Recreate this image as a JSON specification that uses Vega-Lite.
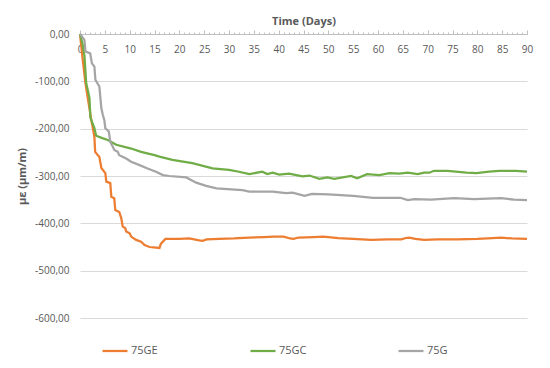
{
  "$schema": "https://vega.github.io/schema/vega-lite/v6.json",
  "width": 447,
  "height": 284,
  "autosize": {"type": "none"},
  "padding": {"left": 80, "top": 34, "right": 23, "bottom": 50},
  "background": "white",
  "config": {
    "view": {"stroke": null},
    "font": "Open Sans",
    "axis": {"labelFont": "Open Sans", "titleFont": "Open Sans", "labelColor": "#595959", "titleColor": "#595959"}
  },
  "data": {
    "values": [
      {"series": "75GE", "day": 0, "v": 0},
      {"series": "75GE", "day": 0.5, "v": -50},
      {"series": "75GE", "day": 1.1, "v": -104},
      {"series": "75GE", "day": 2.2, "v": -177},
      {"series": "75GE", "day": 2.6, "v": -200},
      {"series": "75GE", "day": 2.9, "v": -218},
      {"series": "75GE", "day": 3.05, "v": -249},
      {"series": "75GE", "day": 3.9, "v": -260},
      {"series": "75GE", "day": 4.3, "v": -283},
      {"series": "75GE", "day": 5.1, "v": -294},
      {"series": "75GE", "day": 5.3, "v": -312},
      {"series": "75GE", "day": 6.1, "v": -315},
      {"series": "75GE", "day": 6.3, "v": -344},
      {"series": "75GE", "day": 6.9, "v": -347},
      {"series": "75GE", "day": 7.1, "v": -372},
      {"series": "75GE", "day": 7.9, "v": -376},
      {"series": "75GE", "day": 8.3, "v": -389},
      {"series": "75GE", "day": 8.6, "v": -407},
      {"series": "75GE", "day": 9.1, "v": -410},
      {"series": "75GE", "day": 9.3, "v": -417},
      {"series": "75GE", "day": 10, "v": -421},
      {"series": "75GE", "day": 10.3, "v": -428},
      {"series": "75GE", "day": 11.3, "v": -435},
      {"series": "75GE", "day": 12.3, "v": -439},
      {"series": "75GE", "day": 13, "v": -446},
      {"series": "75GE", "day": 14, "v": -450},
      {"series": "75GE", "day": 16, "v": -452},
      {"series": "75GE", "day": 16.3, "v": -443},
      {"series": "75GE", "day": 17.2, "v": -433},
      {"series": "75GE", "day": 20, "v": -433},
      {"series": "75GE", "day": 22, "v": -432},
      {"series": "75GE", "day": 24, "v": -436},
      {"series": "75GE", "day": 24.7, "v": -437},
      {"series": "75GE", "day": 25.5, "v": -434},
      {"series": "75GE", "day": 28, "v": -433},
      {"series": "75GE", "day": 31, "v": -432},
      {"series": "75GE", "day": 34, "v": -430},
      {"series": "75GE", "day": 37, "v": -429},
      {"series": "75GE", "day": 39, "v": -428},
      {"series": "75GE", "day": 41, "v": -428},
      {"series": "75GE", "day": 42.3, "v": -432},
      {"series": "75GE", "day": 43, "v": -433},
      {"series": "75GE", "day": 44, "v": -430},
      {"series": "75GE", "day": 47, "v": -429},
      {"series": "75GE", "day": 49, "v": -428},
      {"series": "75GE", "day": 52, "v": -431},
      {"series": "75GE", "day": 55, "v": -433},
      {"series": "75GE", "day": 58.6, "v": -435},
      {"series": "75GE", "day": 62, "v": -434},
      {"series": "75GE", "day": 64.7, "v": -434},
      {"series": "75GE", "day": 65.6, "v": -431},
      {"series": "75GE", "day": 66.3, "v": -430},
      {"series": "75GE", "day": 67.5, "v": -433},
      {"series": "75GE", "day": 69.3, "v": -435},
      {"series": "75GE", "day": 72, "v": -434},
      {"series": "75GE", "day": 76, "v": -434},
      {"series": "75GE", "day": 80, "v": -433},
      {"series": "75GE", "day": 83, "v": -431},
      {"series": "75GE", "day": 84.8, "v": -430},
      {"series": "75GE", "day": 87, "v": -432},
      {"series": "75GE", "day": 90, "v": -433},

      {"series": "75GC", "day": 0, "v": 0},
      {"series": "75GC", "day": 0.5, "v": -20},
      {"series": "75GC", "day": 0.9, "v": -46},
      {"series": "75GC", "day": 1.25, "v": -104},
      {"series": "75GC", "day": 1.6, "v": -120},
      {"series": "75GC", "day": 1.9, "v": -135},
      {"series": "75GC", "day": 2.1, "v": -177},
      {"series": "75GC", "day": 2.9, "v": -199},
      {"series": "75GC", "day": 3.25, "v": -215},
      {"series": "75GC", "day": 4.5, "v": -220},
      {"series": "75GC", "day": 5.6, "v": -224},
      {"series": "75GC", "day": 7.3, "v": -234},
      {"series": "75GC", "day": 10.3, "v": -242},
      {"series": "75GC", "day": 12.3, "v": -249},
      {"series": "75GC", "day": 15, "v": -256},
      {"series": "75GC", "day": 16, "v": -259},
      {"series": "75GC", "day": 18.6, "v": -266},
      {"series": "75GC", "day": 22.6, "v": -273},
      {"series": "75GC", "day": 26.7, "v": -284},
      {"series": "75GC", "day": 30, "v": -287},
      {"series": "75GC", "day": 32, "v": -291},
      {"series": "75GC", "day": 34.1, "v": -296},
      {"series": "75GC", "day": 36.7, "v": -291},
      {"series": "75GC", "day": 37.7, "v": -296},
      {"series": "75GC", "day": 38.8, "v": -293},
      {"series": "75GC", "day": 40.1, "v": -297},
      {"series": "75GC", "day": 42.1, "v": -295},
      {"series": "75GC", "day": 44.8, "v": -301},
      {"series": "75GC", "day": 46.2, "v": -299},
      {"series": "75GC", "day": 48.2, "v": -306},
      {"series": "75GC", "day": 49.8, "v": -303},
      {"series": "75GC", "day": 51.2, "v": -306},
      {"series": "75GC", "day": 54.6, "v": -300},
      {"series": "75GC", "day": 55.8, "v": -305},
      {"series": "75GC", "day": 57.8, "v": -296},
      {"series": "75GC", "day": 60.3, "v": -298},
      {"series": "75GC", "day": 62.3, "v": -294},
      {"series": "75GC", "day": 64.3, "v": -295},
      {"series": "75GC", "day": 66, "v": -293},
      {"series": "75GC", "day": 68, "v": -296},
      {"series": "75GC", "day": 69.3, "v": -293},
      {"series": "75GC", "day": 70.3, "v": -293},
      {"series": "75GC", "day": 71.3, "v": -289},
      {"series": "75GC", "day": 74, "v": -289},
      {"series": "75GC", "day": 77.8, "v": -293},
      {"series": "75GC", "day": 79.8, "v": -294},
      {"series": "75GC", "day": 82.4, "v": -291},
      {"series": "75GC", "day": 84.4, "v": -289},
      {"series": "75GC", "day": 87.8, "v": -289},
      {"series": "75GC", "day": 90, "v": -291},

      {"series": "75G", "day": 0, "v": 0},
      {"series": "75G", "day": 0.6, "v": -8},
      {"series": "75G", "day": 0.9, "v": -13},
      {"series": "75G", "day": 1.1, "v": -37},
      {"series": "75G", "day": 2.05, "v": -41},
      {"series": "75G", "day": 2.4, "v": -62},
      {"series": "75G", "day": 2.9, "v": -69},
      {"series": "75G", "day": 3.1, "v": -97},
      {"series": "75G", "day": 3.9, "v": -111},
      {"series": "75G", "day": 4.3, "v": -157},
      {"series": "75G", "day": 4.6, "v": -171},
      {"series": "75G", "day": 4.9, "v": -182},
      {"series": "75G", "day": 5.1, "v": -199},
      {"series": "75G", "day": 5.8, "v": -206},
      {"series": "75G", "day": 6.1, "v": -228},
      {"series": "75G", "day": 6.6, "v": -238},
      {"series": "75G", "day": 6.9, "v": -245},
      {"series": "75G", "day": 7.6, "v": -249},
      {"series": "75G", "day": 7.9, "v": -256},
      {"series": "75G", "day": 9.3, "v": -263},
      {"series": "75G", "day": 10.3, "v": -270},
      {"series": "75G", "day": 12, "v": -277},
      {"series": "75G", "day": 13.6, "v": -284},
      {"series": "75G", "day": 15.3, "v": -291},
      {"series": "75G", "day": 16.7, "v": -298},
      {"series": "75G", "day": 18, "v": -300},
      {"series": "75G", "day": 21.4, "v": -303},
      {"series": "75G", "day": 23.4, "v": -314},
      {"series": "75G", "day": 25.4, "v": -321},
      {"series": "75G", "day": 27.5, "v": -326},
      {"series": "75G", "day": 32.7, "v": -330},
      {"series": "75G", "day": 34.1, "v": -333},
      {"series": "75G", "day": 38.8, "v": -333},
      {"series": "75G", "day": 41.5, "v": -336},
      {"series": "75G", "day": 42.8, "v": -335},
      {"series": "75G", "day": 45.2, "v": -342},
      {"series": "75G", "day": 46.7, "v": -338},
      {"series": "75G", "day": 50, "v": -339},
      {"series": "75G", "day": 55, "v": -342},
      {"series": "75G", "day": 59, "v": -346},
      {"series": "75G", "day": 64.5, "v": -346},
      {"series": "75G", "day": 66, "v": -351},
      {"series": "75G", "day": 67.3, "v": -349},
      {"series": "75G", "day": 70.7, "v": -350},
      {"series": "75G", "day": 75.3, "v": -347},
      {"series": "75G", "day": 79.4, "v": -349},
      {"series": "75G", "day": 82, "v": -348},
      {"series": "75G", "day": 84.8, "v": -347},
      {"series": "75G", "day": 87.4, "v": -350},
      {"series": "75G", "day": 90, "v": -351}
    ]
  },
  "layer": [
    {
      "mark": {"type": "line", "strokeWidth": 2.25, "interpolate": "linear"},
      "encoding": {
        "x": {
          "field": "day", "type": "quantitative",
          "scale": {"domain": [0, 90], "nice": false, "zero": false},
          "axis": {
            "orient": "top",
            "values": [0,1,2,3,4,5,6,7,8,9,10,11,12,13,14,15,16,17,18,19,20,21,22,23,24,25,26,27,28,29,30,31,32,33,34,35,36,37,38,39,40,41,42,43,44,45,46,47,48,49,50,51,52,53,54,55,56,57,58,59,60,61,62,63,64,65,66,67,68,69,70,71,72,73,74,75,76,77,78,79,80,81,82,83,84,85,86,87,88,89,90],
            "labels": false,
            "grid": false,
            "title": null,
            "ticks": true,
            "tickSize": 2,
            "tickColor": "#BFBFBF",
            "domain": true,
            "domainColor": "#BFBFBF"
          }
        },
        "y": {
          "field": "v", "type": "quantitative",
          "scale": {"domain": [-600, 0], "nice": false},
          "axis": {
            "values": [-600, -500, -400, -300, -200, -100, 0],
            "labelExpr": "(datum.value < 0 ? '-' : '') + replace(format(abs(datum.value), '.2f'), '.', ',')",
            "labelFontSize": 10,
            "labelPadding": 11,
            "ticks": false,
            "domain": false,
            "grid": true,
            "gridColor": "#D9D9D9",
            "gridWidth": 1,
            "title": "µε (µm/m)",
            "titleFontSize": 11,
            "titleFontWeight": "bold",
            "titleX": -58,
            "titleBaseline": "middle"
          }
        },
        "color": {
          "field": "series", "type": "nominal",
          "scale": {"domain": ["75GE", "75GC", "75G"], "range": ["#ED7D31", "#70AD47", "#A5A5A5"]},
          "legend": {
            "orient": "none",
            "title": null,
            "direction": "horizontal",
            "columns": 3,
            "gridAlign": "all",
            "columnPadding": 87,
            "legendX": 21,
            "legendY": 303,
            "padding": 0,
            "symbolType": "stroke",
            "symbolSize": 625,
            "symbolStrokeWidth": 2.25,
            "labelFont": "Open Sans",
            "labelFontSize": 11,
            "labelColor": "#595959",
            "labelOffset": 2
          }
        },
        "order": {"field": "day", "type": "quantitative"}
      }
    },
    {
      "mark": {"type": "line", "strokeWidth": 1, "opacity": 0},
      "encoding": {
        "x": {
          "field": "day", "type": "quantitative",
          "scale": {"domain": [0, 90], "nice": false, "zero": false},
          "axis": {
            "orient": "top",
            "values": [0,5,10,15,20,25,30,35,40,45,50,55,60,65,70,75,80,85,90],
            "labelFontSize": 10,
            "labelBaseline": "top",
            "labelPadding": -14,
            "labelFlush": false,
            "labelOverlap": false,
            "grid": false,
            "ticks": true,
            "tickSize": 4,
            "tickColor": "#BFBFBF",
            "domain": false,
            "title": "Time (Days)",
            "titleFontSize": 11,
            "titleFontWeight": "bold",
            "titleY": -10,
            "titleBaseline": "alphabetic"
          }
        },
        "y": {"field": "v", "type": "quantitative"},
        "detail": {"field": "series", "type": "nominal"},
        "order": {"field": "day", "type": "quantitative"}
      }
    }
  ],
  "resolve": {"axis": {"x": "independent"}}
}
